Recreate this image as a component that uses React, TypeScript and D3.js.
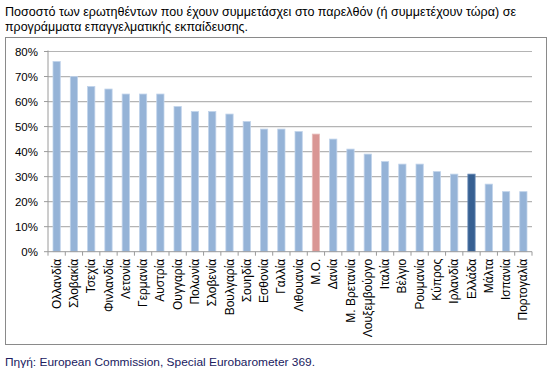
import React from "react";
import * as d3 from "d3";

const categories = ["Ολλανδία","Σλοβακία","Τσεχία","Φινλανδία","Λετονία","Γερμανία","Αυστρία","Ουγγαρία","Πολωνία","Σλοβενία","Βουλγαρία","Σουηδία","Εσθονία","Γαλλία","Λιθουανία","Μ.Ο.","Δανία","Μ. Βρετανία","Λουξεμβούργο","Ιταλία","Βέλγιο","Ρουμανία","Κύπρος","Ιρλανδία","Ελλάδα","Μάλτα","Ισπανία","Πορτογαλία"];
const values = [76,70,66,65,63,63,63,58,56,56,55,52,49,49,48,47,45,41,39,36,35,35,32,31,31,27,24,24];
const yTicks = [0,10,20,30,40,50,60,70,80];
const titleLines = ["Ποσοστό των ερωτηθέντων που έχουν συμμετάσχει στο παρελθόν (ή συμμετέχουν τώρα) σε","προγράμματα επαγγελματικής εκπαίδευσης."];
const sourceText = "Πηγή: European Commission, Special Eurobarometer 369.";

const colorFor = (c: string) => c === "Μ.Ο." ? "#D99694" : c === "Ελλάδα" ? "#376092" : "#95B3D7";
const strokeFor = (c: string) => c === "Μ.Ο." ? "#E8BDBC" : c === "Ελλάδα" ? "#6A8CB8" : "#C0D3EA";

export default function App() {
  const W = 555, H = 375;
  const left = 48, right = 532, top = 51.5, bottom = 251.7;
  const x = d3.scaleBand<string>().domain(categories).range([left, right]).paddingInner(0.58).paddingOuter(0.29);
  const xb = d3.scaleBand<string>().domain(categories).range([left, right]);
  const y = d3.scaleLinear().domain([0, 80]).range([bottom, top]);
  const font = "Arial, 'Liberation Sans', sans-serif";
  return (
    <svg width={W} height={H} style={{ position: "absolute", left: 0, top: 0 }}>
      <rect x={0} y={0} width={W} height={H} fill="#fff" />
      {titleLines.map((t, i) => (
        <text key={i} x={5} y={16 + i * 15} fontFamily={font} fontSize={12.5} fill="#000"
          textLength={i === 0 ? 511 : 243} lengthAdjust="spacingAndGlyphs">{t}</text>
      ))}
      <rect x={5.5} y={37.5} width={541} height={307} fill="#fff" stroke="#8a8a8a" strokeWidth={1} />
      {yTicks.map(t => (
        <g key={t}>
          {t > 0 && <line x1={left} x2={right} y1={y(t)} y2={y(t)} stroke="#b4b4b4" strokeWidth={1.2} />}
          <line x1={left - 4} x2={left} y1={y(t)} y2={y(t)} stroke="#9a9a9a" />
          <text x={38} y={y(t) + 4} textAnchor="end" fontFamily={font} fontSize={11.5} fill="#000">{t}%</text>
        </g>
      ))}
      {categories.map((c, i) => (
        <rect key={c} x={x(c)} y={y(values[i])} width={x.bandwidth()} height={bottom - y(values[i])}
          fill={colorFor(c)} stroke={strokeFor(c)} strokeWidth={0.8} />
      ))}
      <line x1={left} x2={left} y1={top - 1} y2={bottom} stroke="#9a9a9a" />
      <line x1={left} x2={right} y1={bottom} y2={bottom} stroke="#9a9a9a" />
      {categories.map((c, i) => (
        <line key={"t" + i} x1={(xb(c) as number)} x2={(xb(c) as number)} y1={bottom} y2={bottom + 4} stroke="#9a9a9a" />
      ))}
      <line x1={right} x2={right} y1={bottom} y2={bottom + 4} stroke="#9a9a9a" />
      {categories.map((c) => {
        const cx = (x(c) as number) + x.bandwidth() / 2 + 4;
        const ty = bottom + 7;
        return (
          <text key={"l" + c} transform={`translate(${cx},${ty}) rotate(-90)`} textAnchor="end"
            fontFamily={font} fontSize={12} fill="#000">{c}</text>
        );
      })}
      <text x={5} y={366} fontFamily={font} fontSize={11} fill="#202060" textLength={310} lengthAdjust="spacingAndGlyphs">{sourceText}</text>
    </svg>
  );
}
